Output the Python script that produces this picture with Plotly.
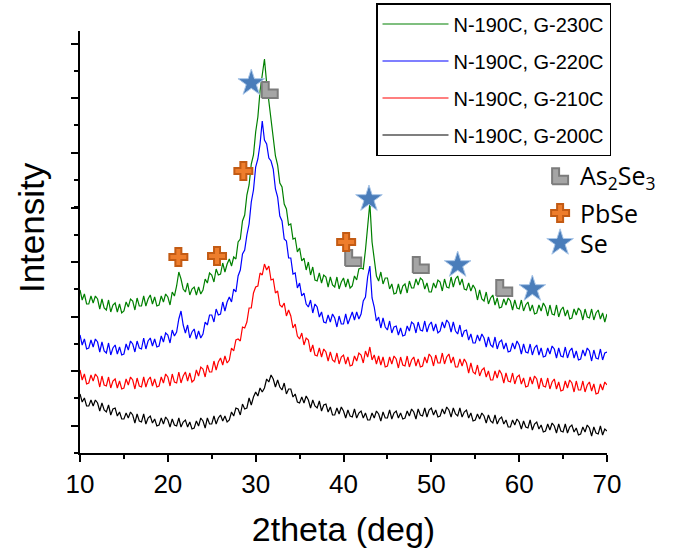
import numpy as np
import plotly.graph_objects as go

# 2theta grid (deg), 0.25 deg step
two_theta = np.arange(10.0, 70.0 + 1e-9, 0.25)

# Intensity (a.u., offset for display) for each growth temperature
g230 = [163,153,159,149, 149,157,150,157, 154,144,154,145, 143,153,141,148,
        150,141,149,140, 142,151,146,154, 152,143,155,147, 147,157,147,154,
        158,149,156,147, 148,157,151,159, 156,148,161,157, 167,181,174,164,
        161,170,158,164, 166,158,166,159, 163,174,170,180, 178,171,184,178,
        179,190,181,189, 194,187,196,194, 211,214,232,238, 258,268,289,298,
        321,336,362,378, 394,370,352,330, 318,297,288,270, 266,249,244,228,
        229,214,215,201, 205,192,195,183, 191,178,186,173, 172,180,170,178,
        176,166,176,168, 166,176,164,171, 175,166,174,165, 167,177,173,184,
        185,184,203,228, 250,211,194,177, 172,181,169,175, 175,164,169,159,
        160,169,159,167, 169,160,172,165, 165,174,168,175, 173,164,170,161,
        161,170,165,173, 171,162,174,166, 165,176,166,174, 177,168,174,164,
        163,170,162,168, 164,153,163,154, 152,161,149,155, 158,148,155,145,
        146,154,148,155, 152,143,153,145, 144,153,142,148, 151,142,148,139,
        140,148,142,150, 146,137,148,139, 138,148,136,143, 146,137,143,134,
        135,144,138,145, 142,133,144,136, 135,144,133,140, 143,134,140,131,
        139]

g220 = [118,108,114,104, 105,113,106,114, 111,101,111,102, 100,110,98,105,
        108,99,106,98, 99,109,103,112, 109,101,112,105, 104,115,104,112,
        115,107,114,106, 107,117,111,120, 118,110,123,117, 121,134,142,128,
        120,128,115,121, 124,114,122,115, 119,131,128,138, 138,131,144,138,
        139,151,142,151, 156,151,164,161, 177,183,199,203, 218,229,251,263,
        286,294,309,332, 313,309,295,292, 284,264,256,237, 232,214,212,195,
        195,179,180,165, 170,157,160,149, 146,153,140,149, 146,136,141,131,
        130,138,131,139, 135,126,137,129, 129,139,129,136, 141,133,141,134,
        139,152,156,176, 187,155,146,132, 136,125,135,126, 123,132,120,126,
        127,118,125,117, 118,127,122,131, 129,120,131,123, 122,132,121,128,
        131,122,129,120, 122,131,125,133, 130,121,131,122, 119,128,116,122,
        123,113,119,110, 110,118,112,119, 115,106,116,108, 106,116,104,111,
        113,104,110,101, 102,110,104,112, 108,99,109,101, 100,109,98,105,
        108,98,105,96, 97,105,99,107, 104,95,105,97, 96,106,95,102,
        105,95,102,93, 94,103,97,105, 102,92,103,95, 94,104,93,100,
        101]

g210 = [83,73,79,69, 70,78,72,79, 76,66,77,68, 67,76,65,72,
        74,65,72,64, 65,74,68,76, 73,64,75,67, 66,76,66,73,
        76,67,74,66, 67,76,70,79, 76,67,79,71, 70,81,70,77,
        81,72,80,71, 73,83,77,86, 84,76,88,81, 81,92,83,91,
        95,88,97,90, 93,105,102,113, 114,112,126,125, 131,145,145,160,
        166,167,180,178, 189,183,187,173, 174,160,162,148, 146,150,137,143,
        137,125,129,117, 114,120,108,115, 113,101,108,98, 97,105,96,104,
        101,92,101,93, 91,100,89,96, 98,89,96,87, 88,97,92,100,
        98,90,102,96, 106,93,98,89, 97,88,96,86, 87,96,89,97,
        94,85,96,88, 87,97,86,93, 96,87,94,86, 87,96,90,99,
        96,87,98,90, 90,100,89,96, 99,90,96,86, 86,94,87,94,
        90,80,90,81, 79,88,77,83, 85,76,82,73, 73,82,75,83,
        79,70,80,72, 71,80,69,76, 78,69,75,66, 67,76,69,77,
        74,64,75,67, 66,75,64,71, 74,64,71,62, 63,72,65,73,
        70,61,72,63, 63,72,61,68, 71,62,69,59, 60,69,63,71,
        68]

g200 = [59,51,55,47, 47,53,47,53, 50,42,50,43, 41,48,38,44,
        45,37,41,34, 34,40,35,41, 38,30,39,32, 31,39,29,35,
        37,30,34,27, 28,35,29,36, 33,26,34,28, 27,35,26,31,
        33,26,31,24, 25,32,27,35, 32,25,35,29, 29,37,29,35,
        38,32,37,31, 33,41,37,45, 44,38,49,44, 45,55,48,56,
        61,57,65,61, 65,74,71,78, 74,66,73,66, 63,70,59,64,
        64,56,59,51, 50,56,50,57, 53,45,53,47, 45,52,42,48,
        49,41,46,38, 38,45,39,46, 42,35,43,37, 36,44,35,40,
        42,35,40,33, 33,40,35,42, 39,32,41,35, 35,43,34,40,
        42,35,40,34, 35,42,37,44, 41,34,44,38, 37,45,36,43,
        45,38,43,36, 37,44,39,46, 43,36,45,39, 37,45,36,41,
        43,35,40,32, 33,39,34,40, 37,30,38,32, 30,38,29,34,
        36,29,33,26, 26,33,28,34, 31,24,32,26, 25,33,23,29,
        31,24,28,21, 22,29,23,30, 27,20,29,22, 21,29,20,26,
        28,21,25,18, 19,26,21,28, 25,17,26,20, 19,27,18,24,
        22]

series_names = ["N-190C, G-230C", "N-190C, G-220C", "N-190C, G-210C", "N-190C, G-200C"]
series_values = [g230, g220, g210, g200]
series_colors = ["#008000", "#0000ff", "#ff0000", "#000000"]

# Phase markers (2theta, offset intensity)
se_x, se_y = [29.5, 42.9, 53.0, 61.5], [370, 254, 188, 164]
pbse_x, pbse_y = [21.2, 25.6, 28.6, 40.3], [196, 197, 282, 211]
as2se3_x, as2se3_y = [31.6, 41.1, 48.8, 58.3], [363, 195, 188, 165]

phase_labels = ["As<sub>2</sub>Se<sub>3</sub>", "PbSe", "Se"]

X_RANGE = [10, 70]
Y_RANGE = [0, 422]
W, H = 682, 551
M = dict(l=80, r=75, t=31, b=98, autoexpand=False)
plot_w = W - M["l"] - M["r"]
plot_h = H - M["t"] - M["b"]

STAR = dict(symbol="star", size=20, color="#4a7dba", line=dict(color="#a9c6e8", width=1))
CROSS = dict(symbol="cross", size=15, color="#ee7d2c", line=dict(color="#c35b14", width=2))
L_FILL, L_LINE = "#a5a5a5", "#7c7c7c"

# L-shaped glyph outline in pixel offsets (y up)
L_PIX = [(-8, -8), (8, -8), (8, 0.5), (-1, 0.5), (-1, 8), (-8, 8), (-8, -8)]


def l_glyph(xs, ys, sx, sy):
    px, py = [], []
    for x0, y0 in zip(xs, ys):
        for dx, dy in L_PIX:
            px.append(x0 + dx * sx)
            py.append(y0 + dy * sy)
        px.append(None)
        py.append(None)
    return px, py


fig = go.Figure()

for i, (name, vals, col) in enumerate(zip(series_names, series_values, series_colors)):
    fig.add_trace(go.Scatter(
        x=two_theta, y=vals, mode="lines", name=name,
        line=dict(color=col, width=1.2), legendgroup=f"g{i}",
    ))

# As2Se3 markers
sx = (X_RANGE[1] - X_RANGE[0]) / plot_w
sy = (Y_RANGE[1] - Y_RANGE[0]) / plot_h
lx, ly = l_glyph(as2se3_x, as2se3_y, sx, sy)
fig.add_trace(go.Scatter(x=lx, y=ly, mode="lines", fill="toself", fillcolor=L_FILL,
                         line=dict(color=L_LINE, width=2), showlegend=False, hoverinfo="skip"))
fig.add_trace(go.Scatter(x=pbse_x, y=pbse_y, mode="markers", marker=CROSS, showlegend=False))
fig.add_trace(go.Scatter(x=se_x, y=se_y, mode="markers", marker=STAR, showlegend=False))

# Phase key on an overlay axis spanning the plot area
key_x = 0.911
key_y = [0.656, 0.569, 0.498]
kx, ky = l_glyph([key_x], [key_y[0]], 1 / plot_w, 1 / plot_h)
fig.add_trace(go.Scatter(x=kx, y=ky, mode="lines", fill="toself", fillcolor=L_FILL,
                         line=dict(color=L_LINE, width=2), showlegend=False,
                         xaxis="x2", yaxis="y2", hoverinfo="skip"))
fig.add_trace(go.Scatter(x=[key_x], y=[key_y[1]], mode="markers", marker=CROSS,
                         showlegend=False, xaxis="x2", yaxis="y2"))
fig.add_trace(go.Scatter(x=[key_x], y=[key_y[2]], mode="markers", marker=STAR,
                         showlegend=False, xaxis="x2", yaxis="y2"))
for lab, yy in zip(phase_labels, key_y):
    fig.add_annotation(x=0.945, y=yy, xref="paper", yref="paper", text=lab,
                       showarrow=False, xanchor="left", yanchor="middle",
                       font=dict(family="Open Sans", size=25, color="#000000"))

# Vertical axis title
fig.add_annotation(x=(31 - M["l"]) / plot_w, y=0.533, xref="paper", yref="paper",
                   text="Intensity", textangle=-90, showarrow=False,
                   xanchor="center", yanchor="middle",
                   font=dict(family="Liberation Sans, Arial", size=35, color="#000000"))

fig.update_layout(
    width=W, height=H, margin=M,
    paper_bgcolor="white", plot_bgcolor="white",
    showlegend=True,
    legend=dict(
        x=(376 - M["l"]) / plot_w, y=1 + (M["t"] - 3) / plot_h,
        xanchor="left", yanchor="top",
        bgcolor="white", bordercolor="#000000", borderwidth=1.5,
        font=dict(family="Liberation Sans, Arial", size=20, color="#000000"),
        tracegroupgap=8, itemwidth=66, traceorder="grouped",
    ),
    xaxis=dict(
        range=X_RANGE, dtick=10, tick0=10, ticks="outside", ticklen=7, tickwidth=1.5,
        tickcolor="#000000", showline=True, linecolor="#000000", linewidth=1.5,
        showgrid=False, zeroline=False, mirror=False,
        minor=dict(dtick=5, ticks="outside", ticklen=4, tickwidth=1.5, tickcolor="#000000"),
        tickfont=dict(family="Liberation Sans, Arial", size=26, color="#000000"),
        title=dict(text="2theta (deg)", standoff=19,
                   font=dict(family="Liberation Sans, Arial", size=34, color="#000000")),
    ),
    yaxis=dict(
        range=Y_RANGE, tick0=27, dtick=54.6, ticks="outside", ticklen=7, tickwidth=1.5,
        tickcolor="#000000", showticklabels=False, showline=True, linecolor="#000000",
        linewidth=1.5, showgrid=False, zeroline=False,
        minor=dict(dtick=27.3, ticks="outside", ticklen=4, tickwidth=1.5, tickcolor="#000000"),
    ),
    xaxis2=dict(overlaying="x", range=[0, 1], visible=False, fixedrange=True),
    yaxis2=dict(overlaying="y", range=[0, 1], visible=False, fixedrange=True),
)

fig.write_html("out.html")
